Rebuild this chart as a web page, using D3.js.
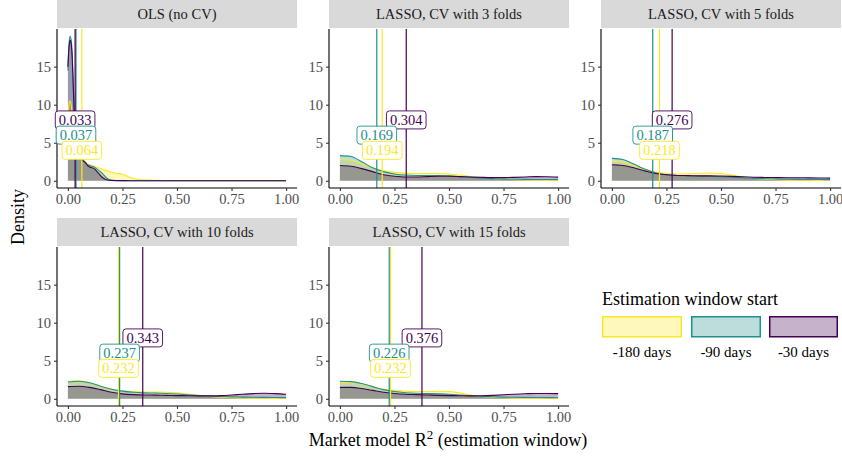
<!DOCTYPE html>
<html>
<head>
<meta charset="utf-8">
<script src="https://cdn.jsdelivr.net/npm/d3@7"></script>
<style>
  html, body { margin: 0; padding: 0; background: #fff; }
  svg { display: block; font-family: "Liberation Serif", "Times New Roman", serif; }
</style>
</head>
<body>
<svg id="chart" width="842" height="458"></svg>
<script>
// ---------------- data ----------------
const panelTitles = ["OLS (no CV)", "LASSO, CV with 3 folds", "LASSO, CV with 5 folds",
                     "LASSO, CV with 10 folds", "LASSO, CV with 15 folds"];
const seriesNames = ["-180 days", "-90 days", "-30 days"];
const seriesColors = ["#FDE725", "#21908C", "#440154"];
const xTicks = [0, 0.25, 0.5, 0.75, 1];
const yTicks = [0, 5, 10, 15];

// density evaluation grids (R^2 values)
const gridOLS = [0, 0.005, 0.01, 0.015, 0.02, 0.025, 0.03, 0.04, 0.05, 0.06, 0.07, 0.08, 0.09, 0.1,
                 0.12, 0.14, 0.16, 0.18, 0.2, 0.22, 0.25, 0.28, 0.3, 0.35, 0.4, 0.45, 0.5, 0.6, 0.8, 1.0];
const gridCV = [0, 0.05, 0.1, 0.15, 0.2, 0.25, 0.3, 0.35, 0.4, 0.45, 0.5,
                0.55, 0.6, 0.65, 0.7, 0.75, 0.8, 0.85, 0.9, 0.95, 1.0];

// OLS (no CV)
const ols180 = [8.0, 10.0, 10.5, 10.0, 8.5, 6.5, 5.0, 3.8, 3.3, 3.0, 2.8, 2.5, 2.2, 2.1,
                1.9, 1.7, 1.5, 1.3, 1.15, 1.0, 0.85, 0.5, 0.3, 0.12, 0.05, 0.02, 0.01, 0.01, 0.01, 0.01];
const ols90  = [14.5, 18.0, 19.0, 18.5, 16.5, 12.5, 8.5, 4.5, 3.3, 3.0, 2.7, 2.4, 2.1, 2.0,
                1.8, 1.4, 0.9, 0.3, 0.08, 0.03, 0.02, 0.01, 0.01, 0.01, 0.01, 0.01, 0.01, 0.01, 0.01, 0.01];
const ols30  = [15.0, 17.5, 18.5, 18.0, 16.0, 12.0, 8.0, 4.3, 3.2, 2.9, 2.6, 2.4, 2.0, 1.8,
                1.6, 1.0, 0.4, 0.1, 0.03, 0.02, 0.02, 0.01, 0.01, 0.01, 0.01, 0.01, 0.01, 0.01, 0.01, 0.01];
// LASSO, 3 folds
const cv3_180 = [2.8, 2.7, 2.2, 1.7, 1.3, 1.1, 1.0, 0.95, 0.95, 0.95, 0.9, 0.75, 0.55, 0.4, 0.3, 0.22, 0.15, 0.1, 0.08, 0.06, 0.05];
const cv3_90  = [3.3, 3.2, 2.5, 1.7, 1.2, 0.9, 0.75, 0.7, 0.7, 0.7, 0.65, 0.55, 0.45, 0.35, 0.28, 0.22, 0.2, 0.18, 0.17, 0.16, 0.15];
const cv3_30  = [2.0, 1.9, 1.6, 1.2, 0.8, 0.6, 0.5, 0.5, 0.55, 0.6, 0.6, 0.55, 0.5, 0.45, 0.42, 0.42, 0.45, 0.5, 0.55, 0.52, 0.48];
// LASSO, 5 folds
const cv5_180 = [2.55, 2.45, 2.0, 1.5, 1.15, 0.95, 0.9, 0.92, 0.98, 1.02, 0.95, 0.75, 0.5, 0.32, 0.2, 0.13, 0.09, 0.07, 0.06, 0.05, 0.05];
const cv5_90  = [2.95, 2.8, 2.2, 1.55, 1.05, 0.8, 0.7, 0.65, 0.62, 0.6, 0.55, 0.48, 0.4, 0.32, 0.27, 0.23, 0.2, 0.18, 0.17, 0.16, 0.15];
const cv5_30  = [2.1, 2.0, 1.7, 1.3, 0.95, 0.8, 0.7, 0.68, 0.65, 0.65, 0.62, 0.58, 0.52, 0.47, 0.44, 0.42, 0.4, 0.4, 0.38, 0.37, 0.35];
// LASSO, 10 folds
const cv10_180 = [2.3, 2.35, 2.1, 1.6, 1.25, 1.05, 0.95, 0.9, 0.88, 0.85, 0.78, 0.62, 0.45, 0.32, 0.22, 0.15, 0.1, 0.08, 0.06, 0.05, 0.05];
const cv10_90  = [2.2, 2.3, 2.1, 1.65, 1.25, 1.0, 0.85, 0.78, 0.75, 0.7, 0.62, 0.52, 0.42, 0.35, 0.3, 0.25, 0.22, 0.2, 0.18, 0.16, 0.15];
const cv10_30  = [1.6, 1.65, 1.5, 1.2, 0.85, 0.65, 0.55, 0.5, 0.48, 0.45, 0.42, 0.4, 0.38, 0.38, 0.42, 0.5, 0.6, 0.68, 0.72, 0.68, 0.6];
// LASSO, 15 folds
const cv15_180 = [2.15, 2.15, 1.95, 1.55, 1.25, 1.1, 1.0, 0.95, 0.95, 0.98, 0.95, 0.75, 0.5, 0.32, 0.2, 0.13, 0.09, 0.07, 0.06, 0.05, 0.05];
const cv15_90  = [2.3, 2.25, 2.0, 1.6, 1.2, 0.95, 0.8, 0.72, 0.68, 0.65, 0.6, 0.5, 0.4, 0.32, 0.27, 0.22, 0.2, 0.18, 0.16, 0.15, 0.14];
const cv15_30  = [1.5, 1.5, 1.35, 1.1, 0.85, 0.7, 0.6, 0.55, 0.5, 0.45, 0.42, 0.4, 0.38, 0.4, 0.45, 0.52, 0.6, 0.66, 0.7, 0.7, 0.68];

// medians (vertical lines and labels), per panel
const median180 = [0.064, 0.194, 0.218, 0.232, 0.232];
const median90  = [0.037, 0.169, 0.187, 0.237, 0.226];
const median30  = [0.033, 0.304, 0.276, 0.343, 0.376];

// ---------------- assemble ----------------
const panelGrids = [gridOLS, gridCV, gridCV, gridCV, gridCV];
const panelSeries = [
  [ols180, ols90, ols30],
  [cv3_180, cv3_90, cv3_30],
  [cv5_180, cv5_90, cv5_30],
  [cv10_180, cv10_90, cv10_30],
  [cv15_180, cv15_90, cv15_30]
];
const panelMedians = panelTitles.map((_, i) => [median180[i], median90[i], median30[i]]);
const labelLevels = [4, 6, 8]; // label heights on density axis

// ---------------- layout ----------------
const svg = d3.select("#chart");
const colLeft = [57, 329, 601];
const rowTop = [0, 218];
const panelW = 240, stripH = 28, plotH = 159;
const fontFam = '"Liberation Serif", "Times New Roman", serif';

const x = d3.scaleLinear().domain([-0.05, 1.05]).range([0, panelW]);
const y = d3.scaleLinear().domain([-0.95, 19.95]).range([plotH, 0]);
const fmtX = d3.format(".2f");
const fmtLab = d3.format(".3f");

const area = d3.area().x(d => x(d[0])).y0(y(0)).y1(d => y(d[1])).curve(d3.curveMonotoneX);
const line = d3.line().x(d => x(d[0])).y(d => y(d[1])).curve(d3.curveMonotoneX);

panelTitles.forEach((title, i) => {
  const col = i % 3, row = Math.floor(i / 3);
  const left = colLeft[col], top = rowTop[row];
  const g = svg.append("g").attr("transform", `translate(${left},${top})`);

  // strip
  g.append("rect").attr("x", 0).attr("y", 0).attr("width", panelW).attr("height", stripH)
    .attr("fill", "#D9D9D9");
  g.append("text").attr("x", panelW / 2).attr("y", stripH / 2 + 5)
    .attr("text-anchor", "middle").attr("font-size", 14.5).attr("fill", "#1A1A1A")
    .text(title);

  const p = g.append("g").attr("transform", `translate(0,${stripH + 1})`);

  // densities
  const grid = panelGrids[i];
  panelSeries[i].forEach((vals, s) => {
    const pts = grid.map((gx, k) => [gx, vals[k]]);
    p.append("path").attr("d", area(pts)).attr("fill", seriesColors[s]).attr("fill-opacity", 0.3);
  });
  panelSeries[i].forEach((vals, s) => {
    const pts = grid.map((gx, k) => [gx, vals[k]]);
    p.append("path").attr("d", line(pts)).attr("fill", "none")
      .attr("stroke", seriesColors[s]).attr("stroke-width", 1.1);
  });

  // median lines
  panelMedians[i].forEach((m, s) => {
    p.append("line").attr("x1", x(m)).attr("x2", x(m)).attr("y1", 0).attr("y2", plotH)
      .attr("stroke", seriesColors[s]).attr("stroke-width", 1.2);
  });

  // axes
  const xa = p.append("g").attr("transform", `translate(0,${plotH})`)
    .call(d3.axisBottom(x).tickValues(xTicks).tickFormat(fmtX).tickSize(3).tickPadding(3).tickSizeOuter(0));
  const ya = p.append("g")
    .call(d3.axisLeft(y).tickValues(yTicks).tickSize(3).tickPadding(3).tickSizeOuter(0));
  [xa, ya].forEach(a => {
    a.select(".domain").attr("stroke", "#000").attr("stroke-width", 1.1);
    a.selectAll(".tick line").attr("stroke", "#333").attr("stroke-width", 1.1);
    a.selectAll(".tick text").attr("fill", "#4D4D4D").attr("font-size", 14.5)
      .attr("font-family", fontFam);
  });
  xa.select(".domain").attr("d", `M0,0H${panelW}`);
  ya.select(".domain").attr("d", `M0,0V${plotH}`);

  // labels (purple, teal, yellow order so yellow sits on top)
  [2, 1, 0].forEach(s => {
    const m = panelMedians[i][s];
    const lg = p.append("g").attr("transform", `translate(${x(m)},${y(labelLevels[s])})`);
    const rect = lg.append("rect").attr("fill", "#fff").attr("stroke", seriesColors[s])
      .attr("stroke-width", 0.9).attr("rx", 3).attr("ry", 3);
    const t = lg.append("text").attr("text-anchor", "middle").attr("y", 5)
      .attr("font-size", 14.5).attr("fill", seriesColors[s]).text(fmtLab(m));
    const w = t.node().getComputedTextLength() + 7;
    rect.attr("x", -w / 2).attr("y", -9).attr("width", w).attr("height", 18);
  });
});

// axis titles
svg.append("text").attr("transform", "translate(24,217) rotate(-90)")
  .attr("text-anchor", "middle").attr("font-size", 18).attr("fill", "#000").text("Density");

const xt = svg.append("text").attr("x", 448).attr("y", 446).attr("text-anchor", "middle")
  .attr("font-size", 18).attr("fill", "#000");
xt.append("tspan").text("Market model R");
xt.append("tspan").attr("dy", -7).attr("font-size", 13).text("2");
xt.append("tspan").attr("dy", 7).text(" (estimation window)");

// legend
const leg = svg.append("g");
leg.append("text").attr("x", 602).attr("y", 305).attr("font-size", 18).attr("fill", "#000")
  .text("Estimation window start");
const keyX = [602, 691, 769], keyW = [80, 70, 69];
seriesNames.forEach((name, s) => {
  leg.append("rect").attr("x", keyX[s] + 0.75).attr("y", 316.75).attr("width", keyW[s] - 1.5).attr("height", 20)
    .attr("fill", seriesColors[s]).attr("fill-opacity", 0.3)
    .attr("stroke", seriesColors[s]).attr("stroke-width", 1.5);
  leg.append("text").attr("x", keyX[s] + keyW[s] / 2).attr("y", 357).attr("text-anchor", "middle")
    .attr("font-size", 15).attr("fill", "#000").text(name);
});
</script>
</body>
</html>
